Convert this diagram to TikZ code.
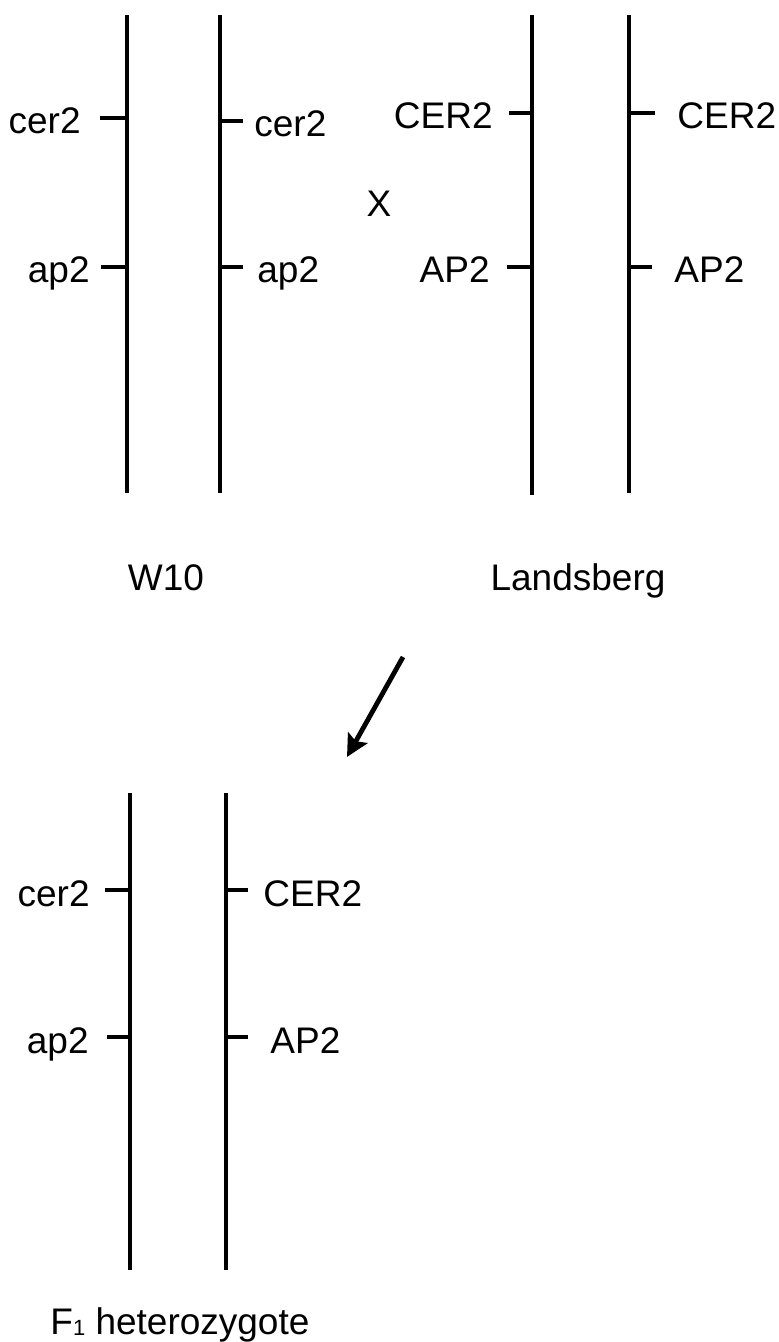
\documentclass[tikz,border=0pt]{standalone}
\usepackage{fontspec}
\setmainfont{Liberation Sans}
\usetikzlibrary{%
  positioning
 ,arrows.meta
}
\newcommand{\lblfont}{\fontsize{18.5}{22}\selectfont}
\tikzstyle{chr}=[line width=1.8pt]
\tikzstyle{tk}=[line width=1.6pt]
\tikzstyle{gl}=[inner sep=0pt,font=\lblfont,anchor=base east,yshift=-8pt]
\tikzstyle{gr}=[inner sep=0pt,font=\lblfont,anchor=base west,yshift=-8pt]
\tikzstyle{ttl}=[inner sep=0pt,font=\lblfont,anchor=base]

\begin{document}
\begin{tikzpicture}[x=0.5pt,y=-0.5pt]
  \useasboundingbox (0,0) rectangle (778,1342);
  % W10 parent
  \coordinate (w_1t) at (127,15);  \coordinate (w_1b) at (127,493);
  \coordinate (w_2t) at (220,15);  \coordinate (w_2b) at (220,493);
  \draw[chr] (w_1t) -- (w_1b) (w_2t) -- (w_2b);
  \coordinate (w_1c) at (127,118); \coordinate (w_1ce) at (100,118);
  \coordinate (w_1a) at (127,267); \coordinate (w_1ae) at (101,267);
  \coordinate (w_2c) at (220,121); \coordinate (w_2ce) at (243,121);
  \coordinate (w_2a) at (220,267); \coordinate (w_2ae) at (243,267);
  \draw[tk] (w_1c) -- (w_1ce) (w_1a) -- (w_1ae) (w_2c) -- (w_2ce) (w_2a) -- (w_2ae);
  \node[left=9.5pt of w_1ce,gl] (cer_w1) {cer2};
  \node[left=5.5pt of w_1ae,gl] (ap_w1) {ap2};
  \node[right=5.5pt of w_2ce,gr] (cer_w2) {cer2};
  \node[right=7pt of w_2ae,gr] (ap_w2) {ap2};
  \node[ttl] (w10) at (166,590) {W10};

  \node[inner sep=0pt,font=\lblfont] (cross) at (379,204) {X};

  % Landsberg parent
  \coordinate (l_1t) at (532,15);  \coordinate (l_1b) at (532,495);
  \coordinate (l_2t) at (629,15);  \coordinate (l_2b) at (629,493);
  \draw[chr] (l_1t) -- (l_1b) (l_2t) -- (l_2b);
  \coordinate (l_1c) at (532,113); \coordinate (l_1ce) at (509,113);
  \coordinate (l_1a) at (532,267); \coordinate (l_1ae) at (507,267);
  \coordinate (l_2c) at (629,113); \coordinate (l_2ce) at (655,113);
  \coordinate (l_2a) at (629,267); \coordinate (l_2ae) at (652,267);
  \draw[tk] (l_1c) -- (l_1ce) (l_1a) -- (l_1ae) (l_2c) -- (l_2ce) (l_2a) -- (l_2ae);
  \node[left=8pt of l_1ce,gl] (cer_l1) {CER2};
  \node[left=8.5pt of l_1ae,gl] (ap_l1) {AP2};
  \node[right=11pt of l_2ce,gr] (cer_l2) {CER2};
  \node[right=11pt of l_2ae,gr] (ap_l2) {AP2};
  \node[ttl] (lands) at (578,590) {Landsberg};

  % cross gives the F1
  \coordinate (arr_s) at (403,657);
  \coordinate (arr_e) at (347,757);
  \draw[line width=2.4pt,-{Stealth[length=11pt,width=11pt,inset=2pt]}] (arr_s) -- (arr_e);

  % F1 heterozygote
  \coordinate (f_1t) at (130,793); \coordinate (f_1b) at (130,1270);
  \coordinate (f_2t) at (226,793); \coordinate (f_2b) at (226,1270);
  \draw[chr] (f_1t) -- (f_1b) (f_2t) -- (f_2b);
  \coordinate (f_1c) at (130,890);  \coordinate (f_1ce) at (105,890);
  \coordinate (f_1a) at (130,1037); \coordinate (f_1ae) at (107,1037);
  \coordinate (f_2c) at (226,890);  \coordinate (f_2ce) at (248,890);
  \coordinate (f_2a) at (226,1037); \coordinate (f_2ae) at (248,1037);
  \draw[tk] (f_1c) -- (f_1ce) (f_1a) -- (f_1ae) (f_2c) -- (f_2ce) (f_2a) -- (f_2ae);
  \node[left=7.5pt of f_1ce,gl] (cer_f1) {cer2};
  \node[left=9pt of f_1ae,gl] (ap_f1) {ap2};
  \node[right=7.5pt of f_2ce,gr] (cer_f2) {CER2};
  \node[right=11pt of f_2ae,gr] (ap_f2) {AP2};
  \node[ttl,anchor=base west] (f1) at (50,1334)
    {F\raisebox{-0.5pt}{\fontsize{11}{11}\selectfont 1} heterozygote};
\end{tikzpicture}
\end{document}
